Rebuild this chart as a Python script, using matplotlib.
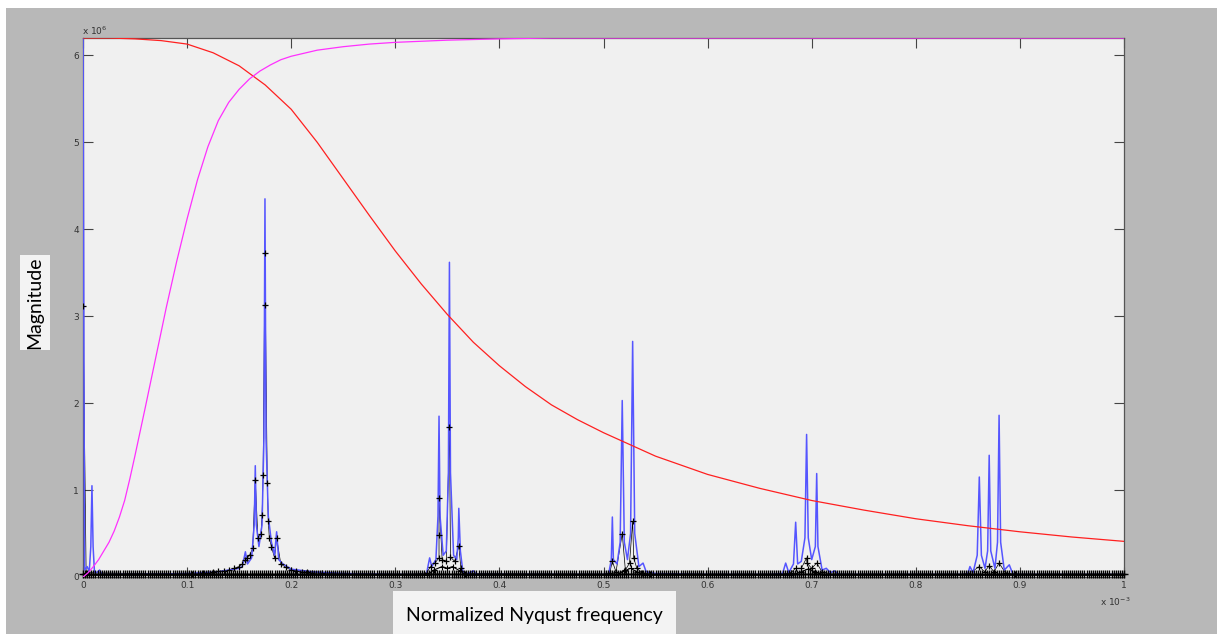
import numpy as np
import matplotlib.pyplot as plt
from matplotlib.patches import Rectangle

# frequency in units of 1e-3 (normalized Nyquist), magnitude in units of 1e6

# blue spectrum (vertices, cluster by cluster)
blue_x = [0.0, 0.0015, 0.004, 0.006, 0.0075, 0.0086, 0.0097, 0.011, 0.013, 0.016, 0.018,
          0.05, 0.1, 0.13, 0.15,
          0.153, 0.156, 0.158, 0.162, 0.1645, 0.1655, 0.1665, 0.169, 0.172, 0.1738, 0.1748, 0.1758,
          0.178, 0.181, 0.184, 0.186, 0.188, 0.192, 0.2, 0.22, 0.25, 0.3,
          0.33, 0.331, 0.333, 0.335, 0.339, 0.341, 0.342, 0.343, 0.346, 0.349, 0.351, 0.352, 0.353,
          0.356, 0.359, 0.3605, 0.361, 0.3625, 0.365, 0.37, 0.375, 0.378, 0.45,
          0.5, 0.505, 0.5075, 0.5085, 0.5095, 0.513, 0.516, 0.518, 0.52, 0.523, 0.526, 0.528, 0.53,
          0.534, 0.538, 0.541, 0.55, 0.6, 0.66,
          0.672, 0.675, 0.678, 0.6825, 0.6846, 0.6865, 0.69, 0.6935, 0.6951, 0.6967, 0.7, 0.7035,
          0.7048, 0.706, 0.71, 0.714, 0.718, 0.722, 0.726, 0.8, 0.845,
          0.85, 0.852, 0.855, 0.859, 0.861, 0.863, 0.8665, 0.869, 0.8705, 0.872, 0.876, 0.8785,
          0.880, 0.8815, 0.885, 0.8898, 0.893, 0.9, 1.0]
blue_y = [6.5, 0.08, 0.12, 0.06, 0.35, 1.05, 0.35, 0.06, 0.05, 0.08, 0.03,
          0.03, 0.04, 0.06, 0.1,
          0.12, 0.29, 0.15, 0.22, 0.6, 1.28, 0.6, 0.35, 0.6, 1.6, 4.35, 1.6,
          0.7, 0.4, 0.25, 0.52, 0.2, 0.15, 0.09, 0.06, 0.04, 0.03,
          0.03, 0.1, 0.22, 0.12, 0.2, 0.7, 1.85, 0.7, 0.25, 0.3, 1.2, 3.62, 1.2,
          0.25, 0.2, 0.45, 0.79, 0.3, 0.05, 0.04, 0.07, 0.03, 0.03,
          0.03, 0.04, 0.2, 0.69, 0.2, 0.15, 0.4, 2.03, 0.4, 0.2, 0.5, 2.71, 0.5,
          0.12, 0.16, 0.06, 0.04, 0.03, 0.03,
          0.04, 0.16, 0.05, 0.15, 0.63, 0.15, 0.18, 0.45, 1.64, 0.45, 0.2, 0.35,
          1.19, 0.35, 0.08, 0.1, 0.05, 0.07, 0.03, 0.03, 0.03,
          0.04, 0.12, 0.05, 0.25, 1.15, 0.25, 0.1, 0.3, 1.4, 0.3, 0.1, 0.4,
          1.86, 0.4, 0.08, 0.14, 0.04, 0.03, 0.03]

# black coarse spectrum with + markers
black_x = [0.0, 0.003, 0.1, 0.105, 0.11, 0.115, 0.12, 0.125, 0.13, 0.135, 0.14, 0.145, 0.15,
           0.153, 0.156, 0.158, 0.16, 0.163, 0.1655, 0.168, 0.171, 0.172,
           0.173, 0.1748, 0.1752, 0.177, 0.178, 0.179, 0.181, 0.184, 0.186, 0.19, 0.195, 0.2,
           0.205, 0.21, 0.215, 0.22, 0.23, 0.24, 0.25,
           0.32, 0.33, 0.334, 0.338, 0.342, 0.342, 0.342, 0.345, 0.349, 0.352, 0.353, 0.357, 0.361,
           0.363, 0.367,
           0.5, 0.506, 0.5085, 0.512, 0.518, 0.521, 0.525, 0.528, 0.529, 0.532, 0.537, 0.545,
           0.67, 0.68, 0.6846, 0.69, 0.6951, 0.6955, 0.7, 0.7048, 0.71, 0.72,
           0.85, 0.861, 0.866, 0.8705, 0.875, 0.88, 0.886, 0.895, 1.0]
black_y = [3.12, 0.05, 0.03, 0.035, 0.04, 0.045, 0.05, 0.055, 0.065, 0.07, 0.08, 0.1, 0.12,
           0.15, 0.2, 0.22, 0.25, 0.33, 1.12, 0.45, 0.5, 0.71,
           1.17, 3.73, 3.13, 1.08, 0.64, 0.45, 0.35, 0.22, 0.45, 0.15, 0.11, 0.08,
           0.07, 0.06, 0.055, 0.05, 0.045, 0.04, 0.03,
           0.03, 0.05, 0.12, 0.16, 0.22, 0.48, 0.91, 0.2, 0.18, 1.73, 0.23, 0.18, 0.36,
           0.1, 0.04,
           0.03, 0.05, 0.18, 0.06, 0.5, 0.08, 0.16, 0.64, 0.22, 0.1, 0.05, 0.03,
           0.03, 0.05, 0.1, 0.1, 0.22, 0.16, 0.1, 0.16, 0.06, 0.03,
           0.03, 0.12, 0.06, 0.13, 0.06, 0.16, 0.05, 0.03, 0.03]

# broad black humps under the clusters
hump_x = [0.0, 0.33, 0.337, 0.345, 0.35, 0.355, 0.362, 0.368,
          0.512, 0.52, 0.526, 0.532, 0.54,
          0.68, 0.69, 0.696, 0.703, 0.712, 1.0]
hump_y = [0.02, 0.02, 0.08, 0.12, 0.1, 0.12, 0.07, 0.02,
          0.02, 0.07, 0.1, 0.06, 0.02,
          0.02, 0.06, 0.09, 0.06, 0.02, 0.02]

# floor of the dense marker row
row_level = 0.03
row_step = 0.002

# red (low-pass) and magenta (high-pass) curves
red_x = [0, 0.025, 0.05, 0.075, 0.1, 0.125, 0.15, 0.175, 0.2, 0.225, 0.25, 0.275, 0.3, 0.325,
         0.35, 0.375, 0.4, 0.425, 0.45, 0.475, 0.5, 0.55, 0.6, 0.65, 0.7,
         0.75, 0.8, 0.85, 0.9, 0.95, 1.0]
red_y = [6.2, 6.2, 6.19, 6.17, 6.13, 6.03, 5.88, 5.66, 5.38, 5.0, 4.58, 4.16, 3.75, 3.37,
         3.02, 2.7, 2.43, 2.19, 1.98, 1.81, 1.66, 1.39, 1.18, 1.02, 0.88,
         0.77, 0.67, 0.59, 0.52, 0.46, 0.41]
mag_x = [0, 0.005, 0.01, 0.015, 0.02, 0.025, 0.03, 0.035, 0.04, 0.045, 0.05, 0.06, 0.07, 0.08,
         0.09, 0.1, 0.11, 0.12, 0.13, 0.14, 0.15, 0.16, 0.17, 0.18, 0.19, 0.2, 0.225, 0.25,
         0.275, 0.3, 0.35, 0.4, 0.45, 0.5, 1.0]
mag_y = [0.0, 0.05, 0.12, 0.2, 0.3, 0.4, 0.53, 0.69, 0.88, 1.13, 1.4, 1.96, 2.53, 3.1,
         3.63, 4.12, 4.57, 4.95, 5.25, 5.46, 5.61, 5.73, 5.82, 5.89, 5.95, 5.99, 6.06, 6.1,
         6.13, 6.15, 6.175, 6.19, 6.2, 6.2, 6.2]

xticks = [0, 0.1, 0.2, 0.3, 0.4, 0.5, 0.6, 0.7, 0.8, 0.9, 1]
xticklabels = ['0', '0.1', '0.2', '0.3', '0.4', '0.5', '0.6', '0.7', '0.8', '0.9', '1']
yticks = [0, 1, 2, 3, 4, 5, 6]

W, H = 1217, 634
fig = plt.figure(figsize=(W / 100, H / 100), dpi=100, facecolor='white')
fig.add_artist(Rectangle((6 / W, 0), 1, (H - 8) / H, transform=fig.transFigure,
                         facecolor='#b8b8b8', edgecolor='none', zorder=-10))

ax = fig.add_axes([83 / W, 1 - 577 / H, (1124 - 83) / W, (577 - 38) / H])
ax.set_facecolor('#f0f0f0')

ax.plot(black_x, black_y, color='black', lw=0.5, zorder=2)
ax.plot(blue_x, blue_y, color='#5555ff', lw=1.1, zorder=3)
ax.plot(hump_x, hump_y, color='black', lw=0.8, marker='+', ms=4.5, mew=0.8, zorder=4)
row_x = np.arange(0, 1.0001, row_step)
ax.plot(row_x, np.full(len(row_x), row_level), color='black', lw=0.8, ls='none',
        marker='+', ms=5.5, mew=1.0, zorder=4, clip_on=False)
ax.plot(black_x, black_y, ls='none', color='black', marker='+', ms=5, mew=0.9, zorder=4)
ax.plot(red_x, red_y, color='#ff2020', lw=0.9, zorder=5)
ax.plot(mag_x, mag_y, color='#ff30ff', lw=0.9, zorder=5)

ax.set_xlim(0, 1)
ax.set_ylim(0, 6.2)
ax.set_xticks(xticks)
ax.set_xticklabels(xticklabels)
ax.set_yticks(yticks)
ax.tick_params(direction='in', top=True, right=True, length=7, width=0.8, color='#444444',
               labelsize=6.5, labelcolor='#333333', pad=3)
for s in ax.spines.values():
    s.set_color('#555555')
    s.set_linewidth(0.9)

fig.text(82 / W, 1 - 31 / H, r'x 10$^6$', fontsize=6.5, color='#333333', va='center')
fig.text(1100 / W, 1 - 602 / H, r'x 10$^{-3}$', fontsize=6.5, color='#333333', va='center')

# white label boxes
fig.add_artist(Rectangle((20 / W, 1 - 350 / H), 30 / W, 95 / H, transform=fig.transFigure,
                         facecolor='#f3f3f3', edgecolor='none'))
fig.text(35 / W, 1 - 303 / H, 'Magnitude', rotation=90, ha='center', va='center',
         fontsize=14, family='Lato', color='black')
fig.add_artist(Rectangle((393 / W, 0), 283 / W, (634 - 591) / H, transform=fig.transFigure,
                         facecolor='#f3f3f3', edgecolor='none'))
fig.text(534 / W, 1 - 615 / H, 'Normalized Nyqust frequency', ha='center', va='center',
         fontsize=14, family='Lato', color='black')

fig.savefig('out.png', dpi=100, facecolor=fig.get_facecolor())
